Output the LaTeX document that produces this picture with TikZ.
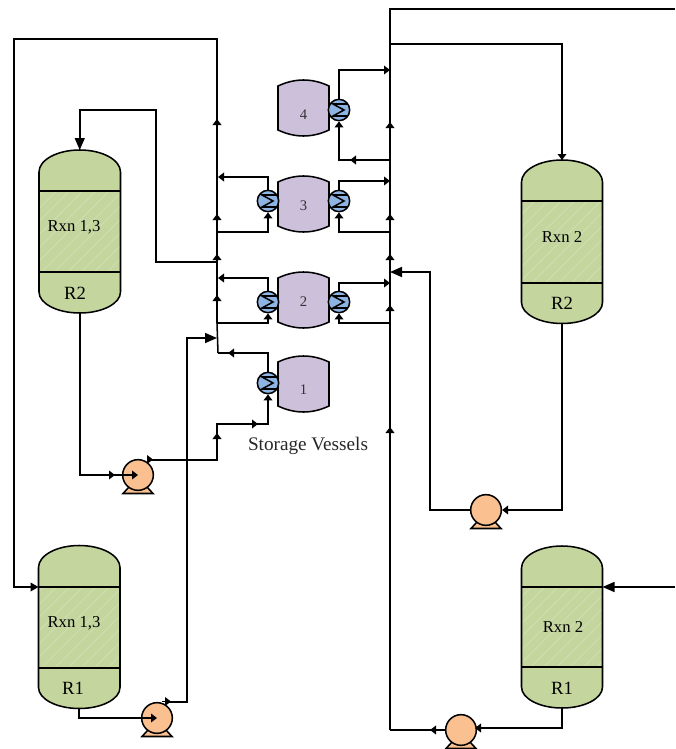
\documentclass[tikz,border=0pt]{standalone}
\usepackage{fontspec}
\setmainfont{Liberation Serif}
\usetikzlibrary{arrows.meta,patterns.meta}
\definecolor{rxgreen}{HTML}{C4D59E}
\definecolor{rxhatch}{HTML}{D6E3BC}
\definecolor{vesselc}{HTML}{CCC0DA}
\definecolor{hxblue}{HTML}{8DB4E2}
\definecolor{pumpc}{HTML}{FAC090}
\tikzset{
  x=.75pt,y=-.75pt,
  eq/.style={draw=black,line width=1.15pt},
  flow/.style={draw=black,line width=1.15pt,line join=miter},
  tipS/.style={flow,-{Triangle[length=4.5pt,width=6.5pt]}},
  tipM/.style={flow,-{Triangle[length=6pt,width=6.5pt]}},
  tipB/.style={flow,-{Triangle[length=9pt,width=7.5pt]}},
  hxnode/.style={circle,eq,fill=hxblue,minimum size=16pt,inner sep=0pt},
  pumpnode/.style={circle,eq,fill=pumpc,minimum size=23pt,inner sep=0pt},
  vtext/.style={font=\fontsize{11pt}{12pt}\selectfont,text=black!80,inner sep=0pt},
  rtext/.style={font=\fontsize{12.5pt}{14pt}\selectfont,inner sep=0pt},
  rlabel/.style={font=\fontsize{14pt}{16pt}\selectfont,inner sep=0pt},
}
% name, left, right, top, band1, band2, bottom
\newcommand\reactorshape[7]{%
  \pgfmathsetmacro\rcx{(#2+#3)/2}
  \fill[rxgreen] (#2,#4+22) arc[start angle=180,end angle=360,x radius={(#3-#2)/2},y radius=22]
     -- (#3,#7-21) arc[start angle=0,end angle=180,x radius={(#3-#2)/2},y radius=21] -- cycle;
  \fill[pattern={Lines[angle=45,distance=7pt,line width=.4pt]},pattern color=rxhatch] (#2,#5) rectangle (#3,#6);
  \draw[eq] (#2,#4+22) arc[start angle=180,end angle=360,x radius={(#3-#2)/2},y radius=22]
     -- (#3,#7-21) arc[start angle=0,end angle=180,x radius={(#3-#2)/2},y radius=21] -- cycle;
  \draw[eq] (#2,#5) -- (#3,#5) (#2,#6) -- (#3,#6);
  \coordinate (#1-t) at (\rcx,#4);
  \coordinate (#1-b) at (\rcx,#7);
  \coordinate (#1-l) at (#2,#5);
  \coordinate (#1-r) at (#3,#5);
}
% name, top y, text, text y
\newcommand\vessel[4]{%
  \draw[eq,fill=vesselc] (278,#2+6) .. controls (295,#2-2) and (312,#2-2) .. (329,#2+6)
    -- (329,#2+50) .. controls (312,#2+58) and (295,#2+58) .. (278,#2+50) -- cycle;
  \node[vtext] (#1) at (303.5,#4) {#3};
}
\newcommand\hx[3]{%
  \node[hxnode] (#1) at (#2,#3) {};
  \draw[line width=1.15pt,line join=miter] (#2+8,#3-6) -- (#2-6,#3-6) -- (#2+5,#3) -- (#2-6,#3+6) -- (#2+8,#3+6);
}
\newcommand\pump[3]{%
  \draw[eq,fill=pumpc,line join=miter] (#2-9,#3+12) -- (#2-15,#3+18.5) -- (#2+15,#3+18.5) -- (#2+9,#3+12) -- cycle;
  \node[pumpnode] (#1) at (#2,#3) {};
}
\newcommand\upm[2]{\draw[tipS] (#1,#2+6) -- (#1,#2);}
\begin{document}
\begin{tikzpicture}
\useasboundingbox (0,0) rectangle (675,749);

% --- equipment ---
\reactorshape{rxa}{39}{120.5}{150}{191}{272}{313}
\reactorshape{rxb}{38.5}{120}{545.5}{587}{668}{708.5}
\reactorshape{rxc}{521.5}{602.5}{160}{201}{283}{323.5}
\reactorshape{rxd}{521.5}{602.5}{546}{587}{667}{708}
\node[rtext] (ta) at (74,227) {Rxn 1,3};
\node[rlabel] (la) at (75,293) {R2};
\node[rtext] (tb) at (74,623) {Rxn 1,3};
\node[rlabel] (lb) at (73,688) {R1};
\node[rtext] (tc) at (562,237) {Rxn 2};
\node[rlabel] (lc) at (562,303) {R2};
\node[rtext] (td) at (563,627) {Rxn 2};
\node[rlabel] (ld) at (562,688) {R1};

\vessel{v4}{80}{4}{115}
\vessel{v3}{176}{3}{206}
\vessel{v2}{272}{2}{302}
\vessel{v1}{356}{1}{390}
\hx{h4}{339}{110}
\hx{h3l}{268}{201}
\hx{h3r}{339}{201}
\hx{h2l}{268}{302}
\hx{h2r}{339}{302}
\hx{h1}{268}{383}
\pump{pa}{138}{475}
\pump{pb}{157}{718}
\pump{pc}{486}{510}
\pump{pd}{461}{730}
\node[font=\fontsize{14.4pt}{16pt}\selectfont,text=black!85,inner sep=0pt] (sv) at (308,446) {Storage Vessels};

% --- junction coordinates ---
\coordinate (lt) at (217,39);
\coordinate (ltl) at (14,39);
\coordinate (lend) at (218,353);
\coordinate (rt) at (390,9);
\coordinate (rte) at (675,9);
\coordinate (rbot) at (390,730);
\coordinate (feed) at (675,587);

% --- left header and recycle to R1 ---
\draw[tipM] (217,323) -- (lt) -- (ltl) -- (14,587) -- (rxb-l);
\draw[flow] (217,323) -- (lend);
% --- right header ---
\draw[flow] (rbot) -- (rt) -- (rte);
\coordinate (r44) at (390,44);
\draw[tipS] (r44) -| (rxc-t);
\draw[tipB] (feed) -- (rxd-r);

% --- storage 4 ---
\draw[tipS] (h4.north) -- (339,70) -- (390,70);
\draw[tipS] (390,160) -- (339,160) -- (h4.south);
\draw[tipS] (360,160) -- (350,160);
% --- storage 3 ---
\draw[tipS] (h3l.north) -- (268,177) -- (218,177);
\draw[tipS] (217,232) -- (268,232) -- (h3l.south);
\draw[tipS] (h3r.north) -- (339,181) -- (390,181);
\draw[tipS] (390,232) -- (339,232) -- (h3r.south);
% --- storage 2 ---
\draw[tipS] (h2l.north) -- (268,278) -- (218,278);
\draw[tipS] (217,323) -- (268,323) -- (h2l.south);
\draw[tipS] (h2r.north) -- (339,283) -- (390,283);
\draw[tipS] (390,323) -- (339,323) -- (h2r.south);
% --- storage 1 ---
\draw[flow] (h1.north) -- (268,353) -- (lend);
\draw[tipS] (240,353) -- (228,353);

% --- R2 (left) loop ---
\draw[tipB] (217,262) -- (156,262) -- (156,110) -| (rxa-t);
\draw[tipS] (rxa-b) |- (pa.center);
\draw[tipS] (105,475) -- (115,475);
\draw[tipS] (149,460) -- (217,460) -- (217,424) -- (268,424) -- (h1.south);
\draw[tipS] (148,459.5) -- (153,459.5);
\upm{217}{433}
\draw[tipS] (248,424) -- (258,424);

% --- R1 (left) loop ---
\draw[tipS] (rxb-b) |- (pb.center);
\draw[tipB] (168,702) -- (187,702) -- (187,338) -- (217,338);
\draw[tipS] (162,701.5) -- (171,701.5);

% --- R2 (right) loop ---
\draw[tipS] (rxc-b) |- (pc.east);
\draw[tipB] (pc.west) -- (430,510) -- (430,272) -- (390,272);

% --- R1 (right) loop ---
\draw[tipS] (rxd-b) |- (475,728);
\draw[flow] (pd.west) -- (rbot);
\draw[tipS] (440,730) -- (430,730);

% --- flow arrows on the headers ---
\upm{217}{119}\upm{217}{214}\upm{217}{254}\upm{217}{295}
\upm{390}{122}\upm{390}{214}\upm{390}{254}\upm{390}{305}\upm{390}{427}
\end{tikzpicture}
\end{document}
